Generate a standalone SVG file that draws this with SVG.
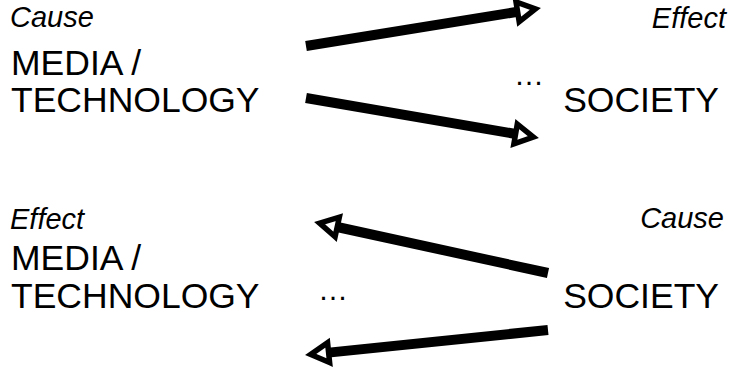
<svg xmlns="http://www.w3.org/2000/svg" width="730" height="367" viewBox="0 0 730 367">
<style>
text{font-family:"Liberation Sans",Arial,sans-serif;fill:#000}
.big{font-size:35.5px}
.it{font-size:29px;font-style:italic}
.end{text-anchor:end}
.dots{font-size:30px}
.ln{stroke:#000;stroke-width:10;fill:none;marker-end:url(#ah)}
</style>
<defs>
<marker id="ah" viewBox="-6 -16 32 32" refX="0" refY="0" markerWidth="32" markerHeight="32" markerUnits="userSpaceOnUse" orient="auto">
<path d="M0,-10 L18,0 L0,10 Z" fill="#fff" stroke="#000" stroke-width="5.5" stroke-linejoin="miter" stroke-miterlimit="6"/>
</marker>
</defs>
<rect width="730" height="367" fill="#fff"/>
<g id="media-top">
<text class="it" x="10" y="27">Cause</text>
<text class="big" x="11" y="75">MEDIA /</text>
<text class="big" x="11" y="112">TECHNOLOGY</text>
</g>
<g id="society-top">
<text class="it end" x="726" y="28">Effect</text>
<text class="big end" x="719" y="112">SOCIETY</text>
<text class="dots" x="514" y="85">…</text>
</g>
<g id="media-bottom">
<text class="it" x="10" y="229">Effect</text>
<text class="big" x="11" y="270">MEDIA /</text>
<text class="big" x="11" y="308">TECHNOLOGY</text>
<text class="dots" x="318" y="300">…</text>
</g>
<g id="society-bottom">
<text class="it end" x="724" y="228">Cause</text>
<text class="big end" x="719" y="308">SOCIETY</text>
</g>
<g id="connectors">
<line class="ln" x1="306" y1="46" x2="517.6" y2="11.8"/>
<line class="ln" x1="306" y1="98" x2="515.6" y2="134"/>
<line class="ln" x1="548" y1="273" x2="337.2" y2="227"/>
<line class="ln" x1="548" y1="330" x2="328.6" y2="352.6"/>
</g>
</svg>
